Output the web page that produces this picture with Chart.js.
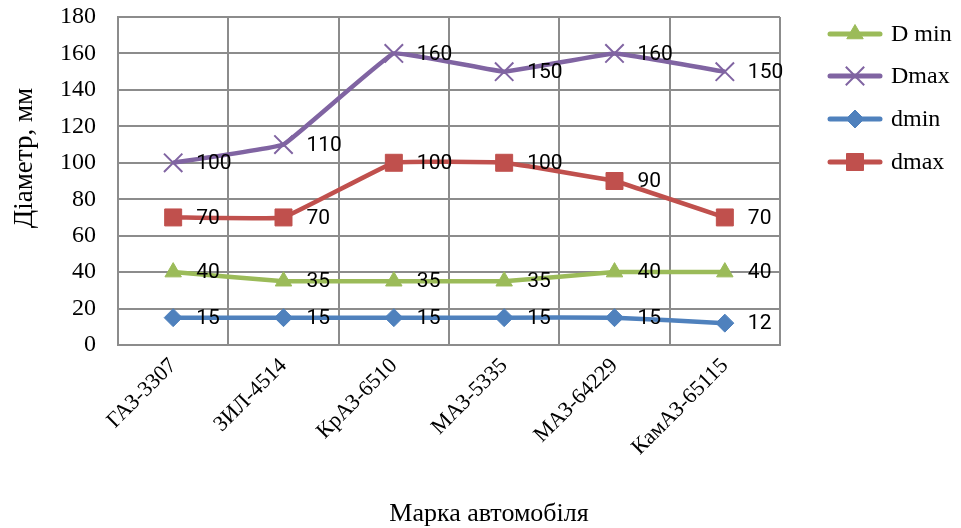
<!DOCTYPE html>
<html>
<head>
<meta charset="utf-8">
<style>
  html, body { margin: 0; padding: 0; background: #fff; }
  #wrap { width: 961px; height: 528px; }
</style>
<script src="https://cdn.jsdelivr.net/npm/chart.js@4/dist/chart.umd.min.js"></script>
</head>
<body>
<div id="wrap"><canvas id="chart" width="961" height="528"></canvas></div>
<script>
const models = ['ГАЗ-3307', 'ЗИЛ-4514', 'КрАЗ-6510', 'МАЗ-5335', 'МАЗ-64229', 'КамАЗ-65115'];
const DminValues = [40, 35, 35, 35, 40, 40];
const DmaxValues = [100, 110, 160, 150, 160, 150];
const dminValues = [15, 15, 15, 15, 15, 12];
const dmaxValues = [70, 70, 100, 100, 90, 70];
const yTicks = [0, 20, 40, 60, 80, 100, 120, 140, 160, 180];
const xTitle = 'Марка автомобіля';
const yTitle = 'Діаметр, мм';

const serif = '"Liberation Serif", "Times New Roman", serif';
const sans = 'Roboto, "Liberation Sans", Arial, sans-serif';
const gridColor = '#8c8c8c';

function series(label, data, color, pointStyle, radius, order) {
    return {
        label,
        data,
        borderColor: color,
        backgroundColor: color,
        borderWidth: 4.5,
        pointStyle,
        pointRadius: radius,
        pointHoverRadius: radius,
        pointBorderWidth: pointStyle === 'crossRot' ? 2 : 1,
        pointBorderColor: color,
        pointBackgroundColor: color,
        tension: 0.07,
        order,
    };
}

// value text to the right of every point
const valueLabels = {
    id: 'valueLabels',
    afterDatasetsDraw(chart) {
        const ctx = chart.ctx;
        ctx.save();
        ctx.font = '21px ' + sans;
        ctx.fillStyle = '#000';
        ctx.textAlign = 'left';
        ctx.textBaseline = 'middle';
        chart.data.datasets.forEach((ds, i) => {
            chart.getDatasetMeta(i).data.forEach((pt, j) => {
                ctx.fillText(String(ds.data[j]), pt.x + 23, pt.y + 1);
            });
        });
        ctx.restore();
    },
};

// axis titles
const axisTitles = {
    id: 'axisTitles',
    afterDraw(chart) {
        const ctx = chart.ctx;
        ctx.save();
        ctx.fillStyle = '#000';
        ctx.textAlign = 'center';
        ctx.textBaseline = 'middle';
        ctx.font = '26px ' + serif;
        ctx.fillText(xTitle, 489, 514);
        ctx.font = '27px ' + serif;
        ctx.translate(25, 158);
        ctx.rotate(-Math.PI / 2);
        ctx.fillText(yTitle, 0, 0);
        ctx.restore();
    },
};

// legend on the right: line with its marker, then the name
const sideLegend = {
    id: 'sideLegend',
    afterDraw(chart) {
        const ctx = chart.ctx;
        const x0 = 830, x1 = 880, tx = 891;
        const rows = [34, 76, 119, 162];
        ctx.save();
        chart.data.datasets.forEach((ds, i) => {
            const y = rows[i];
            ctx.strokeStyle = ds.borderColor;
            ctx.lineWidth = 5;
            ctx.lineCap = 'round';
            ctx.beginPath();
            ctx.moveTo(x0, y);
            ctx.lineTo(x1, y);
            ctx.stroke();
            ctx.lineCap = 'butt';
            ctx.lineWidth = ds.pointBorderWidth;
            ctx.fillStyle = ds.pointBackgroundColor;
            ctx.strokeStyle = ds.pointBorderColor;
            Chart.helpers.drawPoint(ctx, {
                pointStyle: ds.pointStyle,
                radius: ds.pointRadius,
                borderWidth: ds.pointBorderWidth,
                rotation: 0,
            }, (x0 + x1) / 2, y);
            ctx.fillStyle = '#000';
            ctx.font = '24px ' + serif;
            ctx.textAlign = 'left';
            ctx.textBaseline = 'middle';
            ctx.fillText(ds.label, tx, y + 1);
        });
        ctx.restore();
    },
};

new Chart(document.getElementById('chart').getContext('2d'), {
    type: 'line',
    data: {
        labels: models,
        datasets: [
            series('D min', DminValues, '#9BBB59', 'triangle', 9.5, 3),
            series('Dmax', DmaxValues, '#8064A2', 'crossRot', 13, 1),
            series('dmin', dminValues, '#4F81BD', 'rectRot', 9, 4),
            series('dmax', dmaxValues, '#C0504D', 'rect', 12, 2),
        ],
    },
    options: {
        responsive: false,
        animation: false,
        events: [],
        layout: {
            padding: { left: 0, top: 17, right: 181, bottom: 0 },
        },
        plugins: {
            legend: { display: false },
            tooltip: { enabled: false },
        },
        scales: {
            x: {
                offset: true,
                grid: {
                    offset: true,
                    color: gridColor,
                    lineWidth: 2,
                    drawTicks: false,
                },
                border: { color: gridColor, width: 2 },
                ticks: {
                    color: '#000',
                    font: { family: serif, size: 22 },
                    minRotation: 45,
                    maxRotation: 45,
                    padding: 8,
                    autoSkip: false,
                },
                afterFit(scale) {
                    scale.height = 183;
                    scale.paddingLeft = 0;
                    scale.paddingRight = 0;
                },
            },
            y: {
                min: 0,
                max: 180,
                afterBuildTicks(scale) {
                    scale.ticks = yTicks.map((v) => ({ value: v }));
                },
                grid: {
                    color: gridColor,
                    lineWidth: 2,
                    drawTicks: false,
                },
                border: { color: gridColor, width: 2 },
                ticks: {
                    color: '#000',
                    font: { family: serif, size: 24 },
                    padding: 22,
                },
                afterFit(scale) {
                    scale.width = 118;
                    scale.paddingTop = 0;
                    scale.paddingBottom = 0;
                },
            },
        },
    },
    plugins: [valueLabels, axisTitles, sideLegend],
});
</script>
</body>
</html>
